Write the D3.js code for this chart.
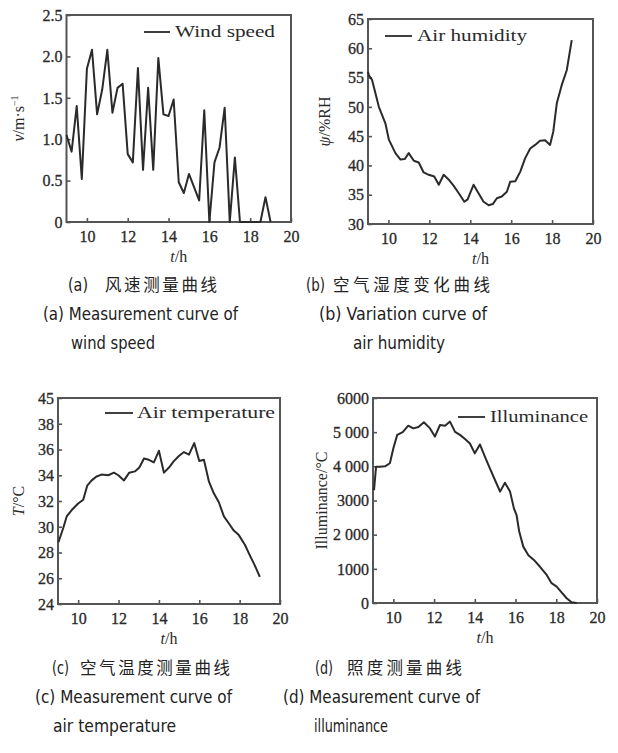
<!DOCTYPE html>
<html><head><meta charset="utf-8">
<script src="https://cdn.jsdelivr.net/npm/d3@7"></script>
<style>
body{margin:0;background:#fff;}
svg{display:block;}
</style></head>
<body><svg id="chart" width="618" height="753"></svg>
<script>
// ---------- data ----------
const xTicks = [10, 12, 14, 16, 18, 20];

const windTime = [9,9.25,9.5,9.75,10,10.25,10.5,10.75,11,11.25,11.5,11.75,12,12.25,12.5,12.75,13,13.25,13.5,13.75,14,14.25,14.5,14.75,15,15.25,15.5,15.75,16,16.25,16.5,16.75,17,17.25,17.5,17.75,18,18.25,18.5,18.75,19];
const windSpeed = [1.05,0.85,1.4,0.52,1.85,2.08,1.3,1.6,2.08,1.32,1.62,1.67,0.82,0.72,1.86,0.63,1.62,0.63,1.98,1.3,1.28,1.48,0.48,0.35,0.58,0.42,0.26,1.35,0,0.72,0.9,1.38,0,0.78,0,0,0,0,0,0.3,0];
const windTicks = [0, 0.5, 1.0, 1.5, 2.0, 2.5];
const windTickLabels = ["0", "0.5", "1.0", "1.5", "2.0", "2.5"];

const humTime = [9,9.04,9.2,9.53,9.85,10.02,10.34,10.59,10.8,10.99,11.24,11.48,11.72,11.97,12.24,12.46,12.7,12.94,13.19,13.43,13.71,13.87,14.16,14.41,14.65,14.9,15.1,15.3,15.54,15.79,15.95,16.2,16.44,16.68,16.93,17.17,17.41,17.66,17.9,18.06,18.23,18.47,18.72,18.96];
const humValue = [56,55.4,54.6,50.0,47.2,44.4,42.1,41.0,41.1,42.1,40.8,40.5,38.8,38.4,38.1,36.7,38.4,37.6,36.5,35.3,33.8,34.2,36.7,35.2,33.8,33.2,33.4,34.4,34.7,35.5,37.2,37.3,38.9,41.2,42.9,43.5,44.2,44.3,43.5,45.8,50.6,53.7,56.3,61.4];
const humTicks = [30, 35, 40, 45, 50, 55, 60, 65];
const humTickLabels = ["30", "35", "40", "45", "50", "55", "60", "65"];

const tempTime = [9.02,9.26,9.43,9.68,10.0,10.25,10.45,10.67,10.91,11.16,11.49,11.77,11.99,12.27,12.53,12.81,13.03,13.26,13.5,13.75,14.0,14.25,14.5,14.74,14.99,15.24,15.49,15.75,16.0,16.23,16.48,16.72,16.97,17.22,17.47,17.71,17.96,18.26,18.5,18.75,19.0];
const tempValue = [28.8,29.9,30.8,31.3,31.8,32.1,33.2,33.6,33.9,34.05,34.0,34.2,34.0,33.6,34.2,34.3,34.6,35.3,35.2,35.0,35.9,34.2,34.6,35.1,35.5,35.8,35.6,36.5,35.1,35.2,33.5,32.6,31.9,30.8,30.25,29.7,29.35,28.6,27.8,27.0,26.1];
const tempTicks = [24, 26, 28, 30, 32, 34, 36, 38, 40];
const tempTickLabels = ["24", "26", "28", "30", "32", "34", "36", "38", "45"];

const illumTime = [9.05,9.15,9.34,9.59,9.83,10.0,10.19,10.46,10.73,10.98,11.23,11.5,11.8,12.04,12.29,12.54,12.78,13.03,13.27,13.52,13.76,14.0,14.25,14.5,14.74,14.99,15.24,15.48,15.73,15.92,16.05,16.18,16.38,16.63,16.9,17.2,17.53,17.77,18.02,18.26,18.51,18.75,19.0];
const illumValue = [3300,3990,3990,4000,4090,4530,4920,5000,5190,5110,5150,5290,5110,4870,5210,5190,5310,5010,4920,4800,4670,4380,4640,4280,3940,3600,3260,3520,3260,2770,2575,2090,1650,1400,1260,1060,820,580,480,310,140,20,0];
const illumTicks = [0, 1000, 2000, 3000, 4000, 5000, 6000];
const illumTickLabels = ["0", "1000", "2 000", "3000", "4 000", "5 000", "6000"];

// ---------- drawing ----------
const svg = d3.select("#chart");
const serif = "'Liberation Serif','Times New Roman',serif";
const narrow = "'Liberation Sans Narrow','DejaVu Sans Condensed','Liberation Sans',sans-serif";
const cjk = "'Noto Sans CJK SC',sans-serif";
const ink = "#2a2a2a";

function panel(o) {
  const g = svg.append("g");
  const x = d3.scaleLinear().domain([9, 20]).range([o.left, o.right]);
  const y = d3.scaleLinear().domain(o.yDomain).range([o.bottom, o.top]);

  const xa = g.append("g").attr("transform", `translate(0,${o.bottom})`)
    .call(d3.axisBottom(x).tickValues(xTicks).tickSizeInner(-4).tickSizeOuter(0).tickPadding(9).tickFormat(d3.format("d")));
  const ya = g.append("g").attr("transform", `translate(${o.left},0)`)
    .call(d3.axisLeft(y).tickValues(o.yTicks).tickSizeInner(-4).tickSizeOuter(0).tickPadding(8).tickFormat((d, i) => o.yLabels[i]));
  [xa, ya].forEach(a => {
    a.select(".domain").remove();
    a.selectAll(".tick line").attr("stroke", "#555").attr("stroke-width", 1.6);
    a.selectAll(".tick text").attr("font-family", serif).attr("font-size", 16).attr("fill", ink)
      .attr("stroke", ink).attr("stroke-width", 0.3);
  });
  xa.selectAll(".tick text").attr("dy", null).attr("y", 20).attr("dominant-baseline", "auto");
  ya.selectAll(".tick text").attr("x", -4).attr("dy", "0.33em");

  g.append("rect").attr("x", o.left).attr("y", o.top)
    .attr("width", o.right - o.left).attr("height", o.bottom - o.top)
    .attr("fill", "none").attr("stroke", "#555").attr("stroke-width", 2);

  const line = d3.line().x((d, i) => x(o.t[i])).y((d) => y(d));
  g.append("path").datum(o.v).attr("d", line)
    .attr("fill", "none").attr("stroke", "#2a2a2a").attr("stroke-width", 2).attr("stroke-linejoin", "round");

  g.append("line").attr("x1", o.leg[0]).attr("x2", o.leg[1]).attr("y1", o.leg[2]).attr("y2", o.leg[2])
    .attr("stroke", "#2a2a2a").attr("stroke-width", 1.8);
  g.append("text").attr("x", o.leg[3]).attr("y", o.leg[2] + 5)
    .attr("font-family", serif).attr("font-size", 16).attr("fill", ink)
    .attr("textLength", o.leg[4]).attr("lengthAdjust", "spacingAndGlyphs").text(o.legend);

  const xl = g.append("text").attr("x", (o.left + o.right) / 2).attr("y", o.bottom + 40)
    .attr("text-anchor", "middle").attr("font-family", serif).attr("font-size", 16).attr("fill", ink);
  xl.append("tspan").attr("font-style", "italic").text("t");
  xl.append("tspan").text("/h");

  const yl = g.append("text").attr("transform", `translate(${o.yLabelX},${(o.top + o.bottom) / 2}) rotate(-90)`)
    .attr("text-anchor", "middle").attr("font-family", serif).attr("font-size", 16).attr("fill", ink);
  o.yLabel.forEach(p => {
    const ts = yl.append("tspan").text(p[0]);
    if (p[1] === "i") ts.attr("font-style", "italic");
    if (p[1] === "sup") ts.attr("font-size", 10).attr("dy", -6);
  });
}

panel({left: 66.5, right: 291, top: 15, bottom: 222, yDomain: [0, 2.5], yTicks: windTicks, yLabels: windTickLabels,
  t: windTime, v: windSpeed, legend: "Wind speed", leg: [144, 170, 32, 175, 100], yLabelX: 24,
  yLabel: [["v", "i"], ["/m·s"], ["−1", "sup"]]});
panel({left: 368, right: 593, top: 19, bottom: 224, yDomain: [30, 65], yTicks: humTicks, yLabels: humTickLabels,
  t: humTime, v: humValue, legend: "Air humidity", leg: [385, 412, 36, 417, 110], yLabelX: 330,
  yLabel: [["ψ", "i"], ["/%RH"]]});
panel({left: 58, right: 280, top: 398, bottom: 604, yDomain: [24, 40], yTicks: tempTicks, yLabels: tempTickLabels,
  t: tempTime, v: tempValue, legend: "Air temperature", leg: [105, 133, 413, 137, 138], yLabelX: 24,
  yLabel: [["T", "i"], ["/°C"]]});
panel({left: 373, right: 597, top: 398, bottom: 603, yDomain: [0, 6000], yTicks: illumTicks, yLabels: illumTickLabels,
  t: illumTime, v: illumValue, legend: "Illuminance", leg: [458, 485, 417, 490, 98], yLabelX: 327,
  yLabel: [["Illuminance/°C"]]});

// ---------- captions ----------
const captions = [
  {x: 68, y: 291, w: 20, en: "(a)"},
  {x: 105, y: 291, w: 112, cn: "风速测量曲线"},
  {x: 43, y: 320, w: 195, en: "(a) Measurement curve of"},
  {x: 71, y: 349, w: 84, en: "wind speed"},
  {x: 306, y: 291, w: 19, en: "(b)"},
  {x: 333, y: 291, w: 157, cn: "空气湿度变化曲线"},
  {x: 319, y: 320, w: 168, en: "(b) Variation curve of"},
  {x: 353, y: 349, w: 92, en: "air humidity"},
  {x: 52, y: 674, w: 17, en: "(c)"},
  {x: 80, y: 674, w: 150, cn: "空气温度测量曲线"},
  {x: 35, y: 703, w: 197, en: "(c) Measurement curve of"},
  {x: 53, y: 732, w: 123, en: "air temperature"},
  {x: 315, y: 674, w: 18, en: "(d)"},
  {x: 347, y: 674, w: 115, cn: "照度测量曲线"},
  {x: 283, y: 703, w: 197, en: "(d) Measurement curve of"},
  {x: 314, y: 732, w: 74, en: "illuminance"}
];
captions.forEach(c => {
  const t = svg.append("text").attr("x", c.x).attr("y", c.y).attr("fill", "#222")
    .attr("textLength", c.w);
  if (c.en) {
    t.attr("font-family", narrow).attr("font-size", 17).attr("lengthAdjust", "spacingAndGlyphs").text(c.en);
  } else {
    t.attr("font-family", cjk).attr("font-size", 16.5).attr("font-weight", 400)
      .attr("lengthAdjust", "spacing").text(c.cn);
  }
});
</script>
</body></html>
